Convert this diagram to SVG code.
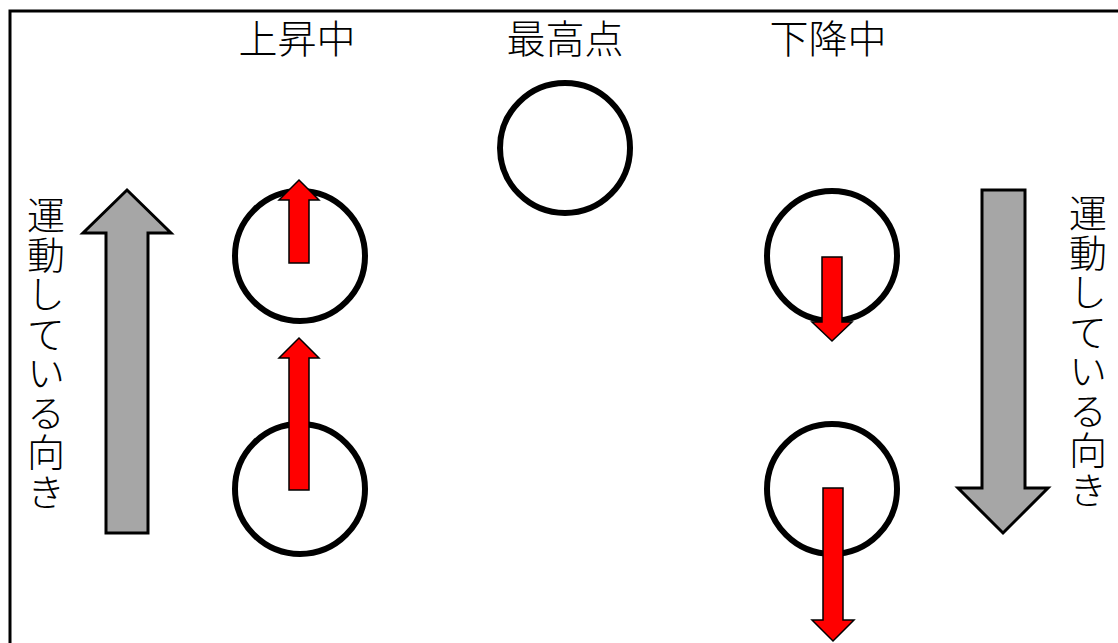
<svg xmlns="http://www.w3.org/2000/svg" width="1118" height="643" viewBox="0 0 1118 643">
  <style>
    .frame { fill: #ffffff; stroke: #000000; stroke-width: 3; }
    .ball { fill: none; stroke: #000000; stroke-width: 6; }
    .force { fill: #ff0000; stroke: #000000; stroke-width: 1.5; stroke-linejoin: miter; }
    .motion { fill: #a6a6a6; stroke: #000000; stroke-width: 3; stroke-linejoin: miter; }
    .label { font-family: "Noto Sans CJK JP", "Noto Sans CJK SC", sans-serif; font-size: 39px; fill: #000000; font-weight: 300; }
    .vlabel { font-family: "Noto Sans CJK JP", "Noto Sans CJK SC", sans-serif; font-size: 38px; fill: #000000; font-weight: 300; writing-mode: vertical-rl; letter-spacing: 1.5px; }
  </style>

  <!-- outer frame (runs past the right and bottom edges) -->
  <rect class="frame" x="10" y="11" width="1130" height="650"/>

  <!-- phase titles -->
  <g id="title-rising">
    <text class="label" x="297" y="53" text-anchor="middle">上昇中</text>
  </g>
  <g id="title-top">
    <text class="label" x="565" y="53" text-anchor="middle">最高点</text>
  </g>
  <g id="title-falling">
    <text class="label" x="828" y="53" text-anchor="middle">下降中</text>
  </g>

  <!-- direction-of-motion captions -->
  <g id="caption-left">
    <text class="vlabel" x="46" y="196">運動している向き</text>
  </g>
  <g id="caption-right">
    <text class="vlabel" x="1088" y="194">運動している向き</text>
  </g>

  <!-- balls -->
  <g id="ball-rising-upper"><circle class="ball" cx="300" cy="256" r="65"/></g>
  <g id="ball-rising-lower"><circle class="ball" cx="300" cy="489" r="65"/></g>
  <g id="ball-top"><circle class="ball" cx="565" cy="148" r="65"/></g>
  <g id="ball-falling-upper"><circle class="ball" cx="832" cy="256" r="65"/></g>
  <g id="ball-falling-lower"><circle class="ball" cx="832" cy="489" r="65"/></g>

  <g id="connectors">
    <!-- gray arrows: direction of motion -->
    <path class="motion" d="M127,190 L171,233 L148,233 L148,533 L106,533 L106,233 L83,233 Z"/>
    <path class="motion" d="M1003,533 L1048,488 L1025,488 L1025,190 L982,190 L982,488 L958,488 Z"/>

    <!-- red arrows: velocity vectors -->
    <path class="force" d="M299,180 L319,200 L309,200 L309,263 L289,263 L289,200 L279,200 Z"/>
    <path class="force" d="M299,338 L319,358 L309,358 L309,490 L289,490 L289,358 L279,358 Z"/>
    <path class="force" d="M832,341 L852,322 L842,322 L842,257 L822,257 L822,322 L812,322 Z"/>
    <path class="force" d="M833,641 L854,620 L843,620 L843,488 L823,488 L823,620 L812,620 Z"/>
  </g>
</svg>
